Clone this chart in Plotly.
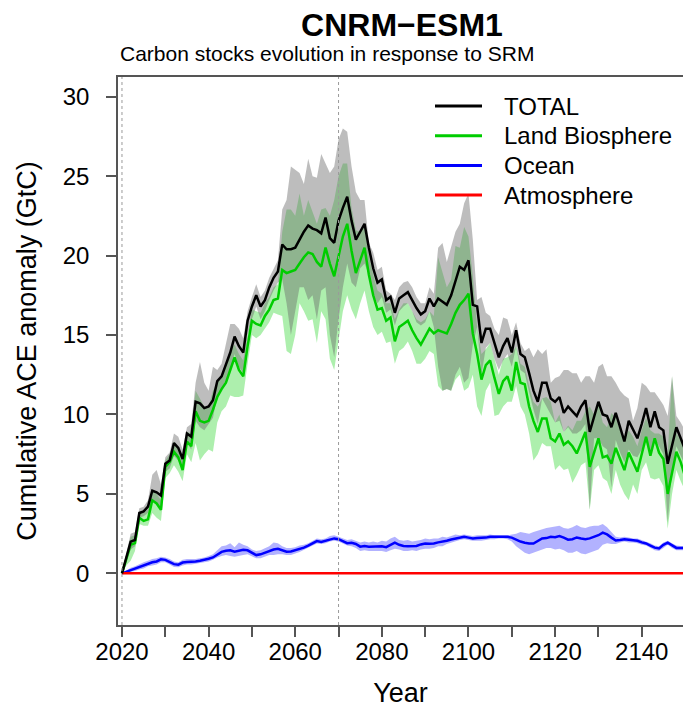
import plotly.graph_objects as go

YEARS = list(range(2020, 2151))

TOTAL = [
    0.0, 1.0, 2.0, 2.1, 3.8, 3.9, 4.2, 5.2, 5.1, 4.9,
    6.9, 7.1, 8.2, 7.9, 7.2, 8.8, 8.6, 10.8, 10.7, 10.4,
    10.5, 10.9, 12.1, 12.4, 13.2, 13.9, 14.9, 14.3, 13.9, 15.9,
    16.8, 17.5, 16.8, 17.2, 18.0, 18.6, 19.0, 20.7, 20.4, 20.4,
    20.5, 21.0, 21.5, 21.9, 21.7, 21.6, 21.4, 22.4, 21.1, 20.8,
    22.2, 23.0, 23.7, 22.2, 21.0, 21.5, 22.0, 20.5, 19.2, 18.3,
    18.5, 17.2, 17.4, 16.4, 17.3, 17.5, 17.7, 17.2, 16.7, 16.3,
    16.5, 17.3, 16.8, 17.3, 17.1, 16.9, 17.5, 18.4, 19.3, 19.1,
    19.7, 16.9, 16.8, 14.5, 15.4, 15.4, 14.5, 13.6, 14.3, 14.8,
    13.9, 15.3, 13.8, 13.6, 12.6, 11.5, 10.8, 12.0, 12.0, 11.0,
    10.8, 11.1, 10.1, 10.5, 10.2, 9.9, 10.5, 10.9, 8.9, 9.9,
    10.8, 10.0, 9.9, 9.2, 10.1, 9.2, 8.3, 9.6, 9.0, 8.5,
    9.4, 10.4, 9.2, 10.2, 9.2, 9.0, 6.9, 8.0, 9.2, 8.5,
    7.8,
]
TOTAL_HI = [
    0.0, 1.2, 2.5, 2.6, 4.1, 4.2, 4.6, 6.2, 6.5, 5.6,
    7.3, 7.6, 8.8, 8.6, 7.8, 9.2, 9.4, 12.0, 13.3, 12.0,
    11.5, 13.0, 12.8, 13.2, 14.4, 15.7, 15.7, 15.4, 14.8, 16.5,
    17.4, 18.2, 17.4, 17.8, 18.6, 19.2, 19.7, 22.9, 23.5, 25.6,
    25.4, 25.2, 24.5, 26.1, 25.0, 24.9, 26.4, 25.8, 25.2, 25.6,
    27.3, 28.0, 27.8, 25.6, 24.0, 23.5, 23.5, 20.8, 20.2, 19.1,
    19.3, 17.8, 17.6, 17.2, 18.0, 18.3, 18.4, 18.0, 17.4, 17.0,
    17.0, 18.0, 17.6, 20.5, 20.8, 19.6, 20.5, 21.5, 22.0, 23.3,
    23.9, 21.0, 17.2, 17.4, 16.4, 16.2, 15.4, 15.0, 16.1, 16.0,
    15.0, 15.8, 14.5, 14.0, 14.2, 13.6, 14.1, 13.8, 14.1, 12.0,
    12.3, 12.4, 12.8, 12.8, 12.6, 12.6, 12.0, 12.4, 12.4, 12.0,
    13.0, 13.2, 12.4, 12.4, 12.0, 11.5, 11.2, 11.0, 9.6, 10.4,
    12.0, 11.8, 11.4, 11.4, 11.0, 10.6, 9.9, 12.4, 9.9, 9.5,
    9.0,
]
TOTAL_LO = [
    0.0, 0.8, 1.5, 1.7, 3.5, 3.6, 3.8, 4.5, 4.4, 4.0,
    6.4, 6.6, 7.4, 7.1, 6.5, 8.2, 7.8, 9.6, 9.2, 9.0,
    9.4, 9.8, 11.2, 11.6, 12.2, 12.8, 13.8, 13.0, 12.6, 15.0,
    16.0, 16.8, 16.0, 16.5, 17.2, 17.8, 18.3, 18.5, 17.0, 15.0,
    16.5, 18.0, 18.0, 17.2, 17.5, 16.0, 17.8, 18.0, 15.0, 13.6,
    16.0, 18.0, 19.5, 18.3, 18.0, 19.2, 19.5, 18.8, 17.5, 17.0,
    17.4, 16.4, 16.6, 15.6, 16.5, 16.8, 17.0, 16.5, 15.8, 15.6,
    15.8, 16.5, 15.5, 13.0, 11.5, 11.6, 11.5, 12.5, 13.0, 12.0,
    12.3, 14.4, 15.5, 12.5, 14.2, 14.5, 13.5, 12.8, 13.4, 13.8,
    13.0, 14.3, 12.8, 12.6, 11.4, 10.3, 9.4, 11.0, 10.5, 10.0,
    9.5, 9.6, 8.9, 9.2, 8.8, 8.8, 9.0, 9.4, 4.0, 8.5,
    8.5, 8.0, 7.8, 5.4, 8.4, 7.6, 7.0, 7.8, 7.4, 7.3,
    7.8, 8.6, 7.5, 8.5, 8.0, 7.5, 3.2, 6.5, 8.0, 7.4,
    6.8,
]

LAND = [
    0.0, 0.9, 1.8, 1.9, 3.5, 3.3, 3.4, 4.6, 4.4, 4.0,
    6.7, 7.0, 7.65, 7.3, 6.5, 8.3, 8.0, 10.2, 9.6, 9.5,
    9.6, 10.3, 11.1, 11.6, 12.0, 12.8, 13.6, 12.8, 12.4, 14.3,
    15.9, 15.7, 15.6, 16.2, 16.6, 17.2, 17.3, 19.1, 18.9, 19.0,
    19.1, 19.5, 19.9, 20.2, 20.1, 19.6, 19.3, 20.5, 19.5, 18.7,
    20.0, 21.2, 22.0, 20.3, 18.9, 19.7, 20.5, 18.8, 17.5, 16.6,
    16.7, 15.9, 16.1, 14.6, 15.5, 15.7, 15.9, 15.3, 14.8, 14.4,
    14.9, 15.4, 15.1, 15.3, 15.2, 15.1, 15.7, 16.4, 16.9, 17.2,
    17.6, 15.1, 13.8, 12.2, 13.1, 13.4, 12.3, 11.3, 12.1, 12.4,
    11.5, 13.3, 12.0, 11.9, 10.5, 9.6, 8.9, 9.75, 9.75, 8.5,
    8.3, 8.8, 8.1, 8.3, 8.0, 7.55, 8.2, 8.9, 6.7, 7.6,
    8.5, 7.3, 7.4, 6.9, 7.9, 7.2, 6.5, 7.6, 7.0, 6.4,
    7.5, 8.6, 7.4, 8.5, 7.6, 7.2, 5.0, 6.4, 7.65, 7.0,
    6.1,
]
LAND_HI = [
    0.0, 1.1, 2.3, 2.4, 3.9, 3.8, 4.0, 5.2, 5.0, 4.6,
    7.1, 7.5, 8.3, 7.9, 7.2, 8.9, 8.8, 11.5, 11.0, 10.5,
    10.5, 11.5, 12.0, 12.4, 13.2, 14.0, 14.4, 13.8, 13.4, 15.0,
    16.6, 16.5, 16.4, 17.0, 17.4, 18.0, 18.2, 21.5, 22.9, 22.9,
    22.5, 23.9, 22.5, 23.5, 22.8, 22.0, 22.9, 23.0, 22.5, 23.5,
    25.0, 25.8, 25.8, 23.0, 21.6, 21.5, 21.8, 20.0, 18.8, 17.8,
    17.6, 17.0, 17.0, 16.0, 16.6, 17.0, 17.0, 16.5, 16.0, 15.8,
    16.0, 16.5, 16.2, 19.9, 19.0, 18.0, 18.5, 20.6, 20.5, 21.8,
    21.2, 18.7, 15.5, 13.8, 14.1, 14.5, 13.5, 12.5, 13.5, 13.6,
    13.8, 14.3, 13.2, 13.0, 11.8, 10.8, 10.5, 11.0, 11.1, 10.8,
    9.5, 10.0, 8.9, 9.3, 9.0, 9.6, 9.6, 10.2, 10.5, 10.0,
    10.7, 9.5, 9.2, 10.1, 9.8, 9.0, 8.5, 9.0, 8.6, 8.0,
    9.0, 9.8, 9.0, 8.8, 8.8, 8.6, 7.5, 12.4, 8.8, 8.4,
    8.3,
]
LAND_LO = [
    0.0, 0.5, 0.8, 1.4, 3.1, 3.0, 3.0, 3.8, 3.5, 3.3,
    6.0, 6.3, 6.8, 6.4, 5.8, 7.5, 7.0, 8.2, 7.1, 7.5,
    7.8, 7.65, 9.5, 10.2, 10.5, 11.2, 11.1, 11.1, 11.2, 13.2,
    15.0, 14.8, 15.0, 15.4, 15.8, 16.4, 16.3, 16.2, 14.0, 13.8,
    15.0, 17.0, 16.5, 15.9, 16.0, 14.5, 16.5, 16.0, 13.5, 12.8,
    14.5, 16.5, 17.5, 16.6, 16.0, 17.0, 17.8, 16.5, 15.5, 15.0,
    15.2, 14.5, 14.6, 13.2, 14.0, 14.2, 14.6, 14.0, 13.2, 13.2,
    13.5, 14.0, 13.8, 11.8, 11.5, 11.6, 11.5, 12.2, 12.5, 11.5,
    11.7, 12.5, 10.5, 9.9, 11.5, 12.0, 9.9, 10.0, 10.5, 10.8,
    10.8, 11.8, 10.5, 10.0, 8.8, 7.1, 7.5, 8.2, 8.0, 8.0,
    6.5, 6.8, 6.5, 6.6, 5.7, 6.2, 6.8, 7.0, 4.0, 6.5,
    6.8, 6.0, 5.8, 5.0, 6.5, 5.6, 5.0, 4.6, 5.6, 5.0,
    6.5, 7.0, 6.0, 5.9, 6.0, 5.5, 2.8, 5.0, 6.5, 5.8,
    5.2,
]

OCEAN = [
    0.0, 0.1, 0.2, 0.3, 0.4, 0.5, 0.62, 0.7, 0.75, 0.88,
    0.85, 0.72, 0.58, 0.55, 0.68, 0.72, 0.72, 0.75, 0.8, 0.85,
    0.92, 1.0, 1.2, 1.35, 1.42, 1.45, 1.36, 1.42, 1.48, 1.45,
    1.3, 1.15, 1.2, 1.3, 1.42, 1.5, 1.55, 1.45, 1.36, 1.38,
    1.45, 1.55, 1.62, 1.75, 1.9, 2.03, 1.98, 2.05, 2.15, 2.2,
    2.15, 2.05, 1.9, 1.92, 1.85, 1.68, 1.72, 1.68, 1.7, 1.68,
    1.7, 1.65, 1.8, 1.93, 1.8, 1.72, 1.7, 1.72, 1.72, 1.82,
    1.88, 1.86, 1.88, 1.95, 1.98, 2.05, 2.13, 2.2, 2.25, 2.3,
    2.25, 2.2, 2.22, 2.22, 2.25, 2.3, 2.3, 2.3, 2.3, 2.3,
    2.25, 2.1, 2.0, 1.93, 1.88, 1.88, 2.05, 2.2, 2.22, 2.3,
    2.28, 2.35, 2.25, 2.12, 2.15, 2.26, 2.2, 2.15, 2.2, 2.3,
    2.4, 2.56, 2.45, 2.25, 2.07, 2.1, 2.15, 2.12, 2.08, 2.05,
    1.95, 1.88, 1.75, 1.62, 1.57, 1.8, 1.93, 1.75, 1.6, 1.6,
    1.6,
]
OCEAN_HI = [
    0.0, 0.2, 0.35, 0.45, 0.6, 0.7, 0.8, 0.9, 0.95, 1.05,
    1.0, 0.9, 0.75, 0.7, 0.85, 0.9, 0.9, 0.9, 0.95, 1.0,
    1.1, 1.2, 1.45, 1.7, 1.75, 1.9, 1.65, 1.95, 1.8, 1.7,
    1.5, 1.4, 1.45, 1.6, 1.7, 1.95, 1.9, 1.7, 1.6, 1.6,
    1.65, 1.75, 1.8, 1.9, 2.05, 2.2, 2.15, 2.2, 2.35, 2.4,
    2.3, 2.2, 2.1, 2.15, 2.05, 1.95, 2.0, 1.95, 2.0, 1.95,
    2.05, 2.0, 2.2, 2.3, 2.1, 2.05, 2.1, 2.0, 2.05, 2.1,
    2.2, 2.15, 2.2, 2.2, 2.3, 2.25, 2.35, 2.45, 2.4, 2.45,
    2.4, 2.35, 2.4, 2.4, 2.4, 2.45, 2.4, 2.4, 2.4, 2.4,
    2.45, 2.5, 2.6, 2.55, 2.5, 2.6, 2.7, 2.8, 2.85, 2.9,
    2.95, 3.0, 2.85, 2.8, 2.9, 3.05, 2.9, 2.85, 2.95, 3.0,
    3.0, 3.1, 2.9, 2.6, 2.3, 2.25, 2.3, 2.25, 2.2, 2.2,
    2.1, 2.0, 1.9, 1.75, 1.7, 1.95, 2.05, 1.9, 1.75, 1.72,
    1.72,
]
OCEAN_LO = [
    0.0, 0.0, 0.1, 0.15, 0.25, 0.3, 0.45, 0.5, 0.55, 0.7,
    0.7, 0.55, 0.4, 0.38, 0.5, 0.55, 0.55, 0.6, 0.65, 0.7,
    0.75, 0.85, 1.0, 1.1, 1.15, 1.1, 1.05, 1.1, 1.15, 1.2,
    1.1, 0.95, 0.95, 1.05, 1.15, 1.15, 1.2, 1.2, 1.15, 1.15,
    1.25, 1.35, 1.45, 1.6, 1.75, 1.88, 1.85, 1.9, 2.0, 2.05,
    2.0, 1.9, 1.75, 1.7, 1.6, 1.4, 1.45, 1.4, 1.4, 1.4,
    1.4, 1.35, 1.45, 1.55, 1.5, 1.4, 1.4, 1.45, 1.4, 1.5,
    1.55, 1.55, 1.6, 1.7, 1.7, 1.85, 1.9, 2.0, 2.1, 2.15,
    2.1, 2.05, 2.05, 2.05, 2.1, 2.15, 2.15, 2.2, 2.2, 2.15,
    2.0, 1.7, 1.5, 1.3, 1.2, 1.25, 1.4, 1.5, 1.6, 1.6,
    1.5, 1.55, 1.45, 1.3, 1.3, 1.4, 1.25, 1.2, 1.3, 1.4,
    1.5, 1.8, 1.9, 1.85, 1.85, 1.95, 2.0, 1.95, 1.95, 1.9,
    1.8, 1.75, 1.6, 1.45, 1.4, 1.6, 1.8, 1.6, 1.45, 1.45,
    1.45,
]

ATMOSPHERE = [
    0.0, 0.0, 0.0, 0.0, 0.0, 0.0, 0.0, 0.0, 0.0, 0.0,
    0.0, 0.0, 0.0, 0.0, 0.0, 0.0, 0.0, 0.0, 0.0, 0.0,
    0.0, 0.0, 0.0, 0.0, 0.0, 0.0, 0.0, 0.0, 0.0, 0.0,
    0.0, 0.0, 0.0, 0.0, 0.0, 0.0, 0.0, 0.0, 0.0, 0.0,
    0.0, 0.0, 0.0, 0.0, 0.0, 0.0, 0.0, 0.0, 0.0, 0.0,
    0.0, 0.0, 0.0, 0.0, 0.0, 0.0, 0.0, 0.0, 0.0, 0.0,
    0.0, 0.0, 0.0, 0.0, 0.0, 0.0, 0.0, 0.0, 0.0, 0.0,
    0.0, 0.0, 0.0, 0.0, 0.0, 0.0, 0.0, 0.0, 0.0, 0.0,
    0.0, 0.0, 0.0, 0.0, 0.0, 0.0, 0.0, 0.0, 0.0, 0.0,
    0.0, 0.0, 0.0, 0.0, 0.0, 0.0, 0.0, 0.0, 0.0, 0.0,
    0.0, 0.0, 0.0, 0.0, 0.0, 0.0, 0.0, 0.0, 0.0, 0.0,
    0.0, 0.0, 0.0, 0.0, 0.0, 0.0, 0.0, 0.0, 0.0, 0.0,
    0.0, 0.0, 0.0, 0.0, 0.0, 0.0, 0.0, 0.0, 0.0, 0.0,
    0.0,
]

SERIES_NAMES = ["TOTAL", "Land Biosphere", "Ocean", "Atmosphere"]
X_TICKS = [2020, 2030, 2040, 2050, 2060, 2070, 2080, 2090, 2100, 2110, 2120, 2130, 2140]
X_TICK_LABELS = ["2020", "", "2040", "", "2060", "", "2080", "", "2100", "", "2120", "", "2140"]
Y_TICKS = [0, 5, 10, 15, 20, 25, 30]
REF_YEARS = [2020, 2070]

for arr in (TOTAL, TOTAL_HI, TOTAL_LO, LAND, LAND_HI, LAND_LO, OCEAN, OCEAN_HI, OCEAN_LO, ATMOSPHERE):
    assert len(arr) == len(YEARS), len(arr)

FONT = "Liberation Sans, Arial, Helvetica, sans-serif"
COLORS = {"TOTAL": "#000000", "Land Biosphere": "#00CD00", "Ocean": "#0000FF", "Atmosphere": "#FF0000"}

# layout geometry (pixels)
W, H = 683, 708
ML, MR, MT, MB = 118, 0, 77, 83
PW, PH = W - ML - MR, H - MT - MB


def px_x(px):
    return (px - ML) / PW


def px_y(py):
    return (H - MB - py) / PH


def band(lo, hi, color):
    return go.Scatter(
        x=YEARS + YEARS[::-1],
        y=hi + lo[::-1],
        fill="toself",
        fillcolor=color,
        line=dict(width=0),
        mode="lines",
        hoverinfo="skip",
        showlegend=False,
    )


fig = go.Figure()
fig.add_trace(band(LAND_LO, LAND_HI, "rgba(0,205,0,0.32)"))
fig.add_trace(band(TOTAL_LO, TOTAL_HI, "rgba(105,105,105,0.44)"))
fig.add_trace(band(OCEAN_LO, OCEAN_HI, "rgba(0,0,255,0.3)"))

fig.add_trace(go.Scatter(x=YEARS, y=LAND, mode="lines", name="Land Biosphere",
                         line=dict(color=COLORS["Land Biosphere"], width=2.5), showlegend=False))
fig.add_trace(go.Scatter(x=YEARS, y=OCEAN, mode="lines", name="Ocean",
                         line=dict(color=COLORS["Ocean"], width=2.5), showlegend=False))
fig.add_trace(go.Scatter(x=YEARS, y=ATMOSPHERE, mode="lines", name="Atmosphere",
                         line=dict(color=COLORS["Atmosphere"], width=2.5), showlegend=False))
fig.add_trace(go.Scatter(x=YEARS, y=TOTAL, mode="lines", name="TOTAL",
                         line=dict(color=COLORS["TOTAL"], width=2.5), showlegend=False))

for yr in REF_YEARS:
    fig.add_shape(type="line", xref="x", yref="paper", x0=yr, x1=yr, y0=0, y1=1,
                  line=dict(color="#9a9a9a", width=1, dash="dot"), layer="above")

# legend (drawn as key lines + labels, R-style)
annotations = []
LEG_TOP, LEG_STEP = 106, 29.7
for i, name in enumerate(SERIES_NAMES):
    yy = px_y(LEG_TOP + i * LEG_STEP)
    fig.add_shape(type="line", xref="paper", yref="paper", x0=px_x(435), x1=px_x(482), y0=yy, y1=yy,
                  line=dict(color=COLORS[name], width=3), layer="above")
    annotations.append(dict(text=name, xref="paper", yref="paper", x=px_x(502), xanchor="left",
                            y=yy, yanchor="middle", showarrow=False,
                            font=dict(size=24, family=FONT, color="black")))

annotations.append(dict(text="Carbon stocks evolution in response to SRM", xref="paper", yref="paper",
                        x=0, xanchor="left", y=px_y(53), yanchor="middle", showarrow=False,
                        font=dict(size=21, family=FONT, color="black")))

fig.update_layout(
    width=W, height=H,
    margin=dict(l=ML, r=MR, t=MT, b=MB),
    paper_bgcolor="white", plot_bgcolor="white",
    font=dict(family=FONT, color="black"),
    title=dict(text="<b>CNRM\u2212ESM1</b>", font=dict(size=32, family=FONT, color="black"),
               x=402 / W, xanchor="center", xref="container",
               y=1 - 25 / H, yanchor="middle", yref="container"),
    showlegend=False,
    xaxis=dict(range=[2019.08, 2149.53], tickmode="array", tickvals=X_TICKS, ticktext=X_TICK_LABELS,
               ticks="outside", ticklen=10, tickwidth=1.5, tickcolor="#555555",
               showline=True, linecolor="#555555", linewidth=1.5, mirror=True,
               showgrid=False, zeroline=False,
               tickfont=dict(size=24, family=FONT, color="black"), ticklabelstandoff=-6,
               title=dict(text="Year", font=dict(size=27, family=FONT, color="black"), standoff=22),
               automargin=False),
    yaxis=dict(range=[-3.25, 31.24], tickmode="array", tickvals=Y_TICKS,
               ticks="outside", ticklen=10, tickwidth=1.5, tickcolor="#555555",
               showline=True, linecolor="#555555", linewidth=1.5,
               showgrid=False, zeroline=False,
               tickfont=dict(size=24, family=FONT, color="black"), ticklabelstandoff=12,
               title=dict(text="Cumulative ACE anomaly (GtC)", font=dict(size=27, family=FONT, color="black"),
                          standoff=18),
               automargin=False),
    annotations=annotations,
)

fig.write_html("out.html", config={"displayModeBar": False},
               post_script="document.body.style.margin='0';document.body.style.padding='0';"
                           "document.body.style.overflow='hidden';")
